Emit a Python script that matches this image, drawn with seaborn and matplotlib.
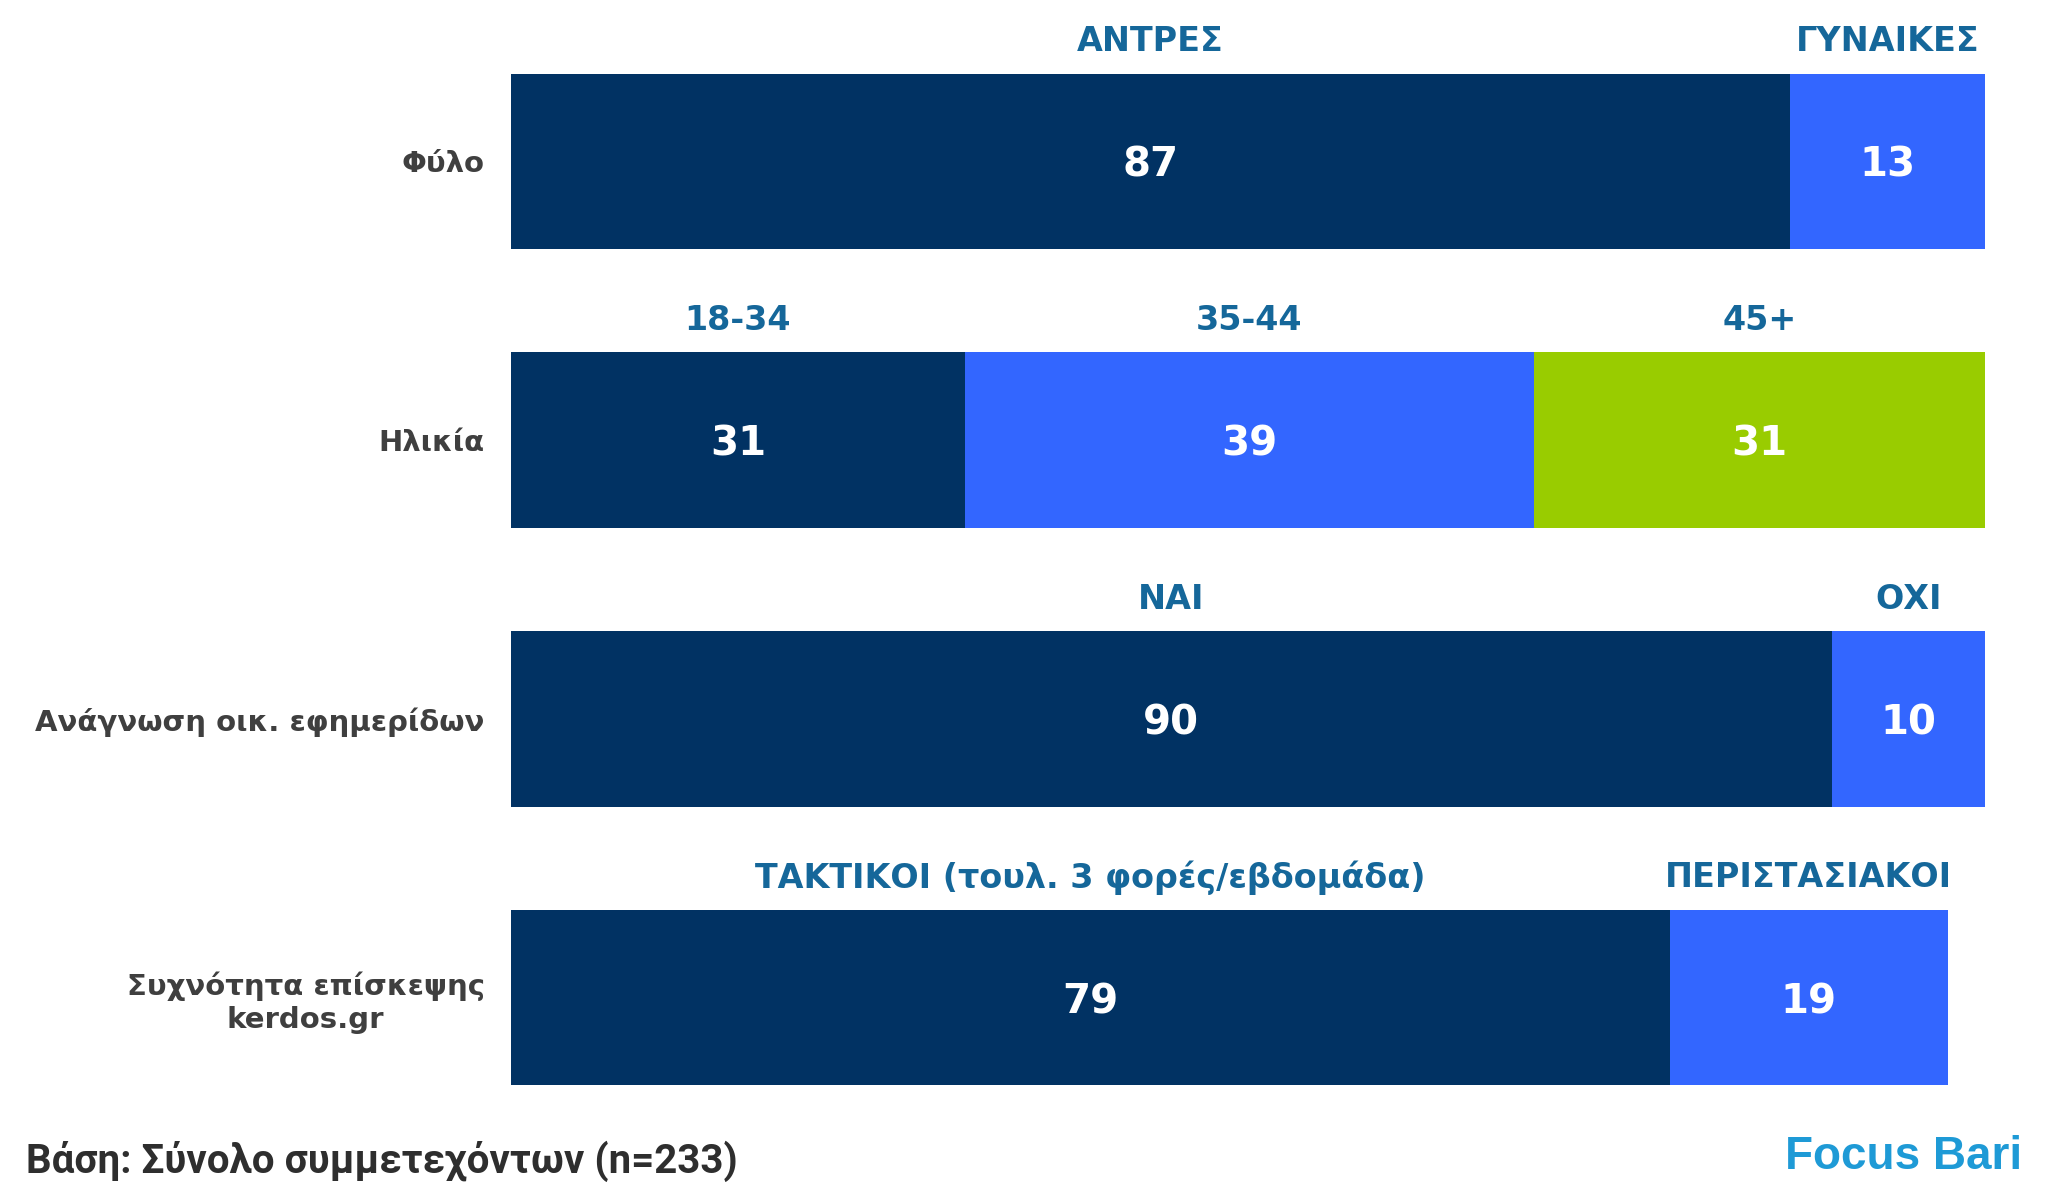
import numpy as np
import pandas as pd
import matplotlib
matplotlib.use("Agg")
import matplotlib.pyplot as plt
import seaborn as sns

# ---- data ----
rows = ["Φύλο", "Ηλικία", "Ανάγνωση οικ. εφημερίδων", "Συχνότητα επίσκεψης\nkerdos.gr"]
seg1_values = [86.8, 30.8, 89.6, 78.6]
seg2_values = [13.2, 38.6, 10.4, 18.9]
seg3_values = [np.nan, 30.6, np.nan, np.nan]
seg1_names = ["ΑΝΤΡΕΣ", "18-34", "ΝΑΙ", "ΤΑΚΤΙΚΟΙ (τουλ. 3 φορές/εβδομάδα)"]
seg2_names = ["ΓΥΝΑΙΚΕΣ", "35-44", "ΟΧΙ", "ΠΕΡΙΣΤΑΣΙΑΚΟΙ"]
seg3_names = [None, "45+", None, None]
base_note = "Βάση: Σύνολο συμμετεχόντων (n=233)"
logo_text = "Focus Bari"

NAVY = "#013263"
BLUE = "#3366FF"
GREEN = "#99CC00"
CAT_COL = "#15679A"
ROW_COL = "#3F3F3F"

df = pd.DataFrame({"row": rows, "s1": seg1_values, "s2": seg2_values, "s3": seg3_values})
df["c1"] = df["s1"]
df["c2"] = df["s1"] + df["s2"]
df["c3"] = df["c2"] + df["s3"]

sns.set_theme(style="white")
plt.rcParams["font.family"] = ["DejaVu Sans"]

W, H, DPI = 2061, 1197, 100
fig = plt.figure(figsize=(W / DPI, H / DPI), dpi=DPI)
ax = fig.add_axes([511 / W, 1 - 1137 / H, 1474 / W, 1115 / H])

BAR_H = 0.63
for col, colour in (("c3", GREEN), ("c2", BLUE), ("c1", NAVY)):
    sns.barplot(data=df, x=col, y="row", color=colour, orient="h", width=BAR_H,
                ax=ax, saturation=1, linewidth=0, edgecolor="none")

ax.set_xlim(0, 100)
ax.set_ylim(3.5, -0.5)
ax.set_xlabel("")
ax.set_ylabel("")
ax.set_xticks([])
sns.despine(ax=ax, left=True, bottom=True)
ax.tick_params(axis="y", length=0, pad=19)
for lab in ax.get_yticklabels():
    lab.set_fontsize(21)
    lab.set_fontweight("bold")
    lab.set_color(ROW_COL)
    lab.set_multialignment("center")

segs = [(seg1_values, seg1_names), (seg2_values, seg2_names), (seg3_values, seg3_names)]
for i in range(len(rows)):
    left = 0.0
    for vals, names in segs:
        v = vals[i]
        if v is None or np.isnan(v):
            continue
        cx = left + v / 2
        ax.text(cx, i, f"{round(v):d}", ha="center", va="center_baseline", color="white",
                fontsize=29, fontweight="bold")
        ax.annotate(names[i], xy=(cx, i - BAR_H / 2), xytext=(0, 23),
                    textcoords="offset points", ha="center", va="center",
                    color=CAT_COL, fontsize=24, fontweight="bold", annotation_clip=False)
        left += v

fig.text(26 / W, 1 - 1161 / H, base_note, ha="left", va="center", fontsize=29,
         color="#2E2E2E", family=["Roboto", "DejaVu Sans"], fontweight="bold")
fig.text(2022 / W, 1 - 1157 / H, logo_text, ha="right", va="center", fontsize=33,
         color="#1E9AD6", family=["Liberation Sans", "DejaVu Sans"], fontweight="bold")

fig.savefig("out.png", dpi=DPI)
